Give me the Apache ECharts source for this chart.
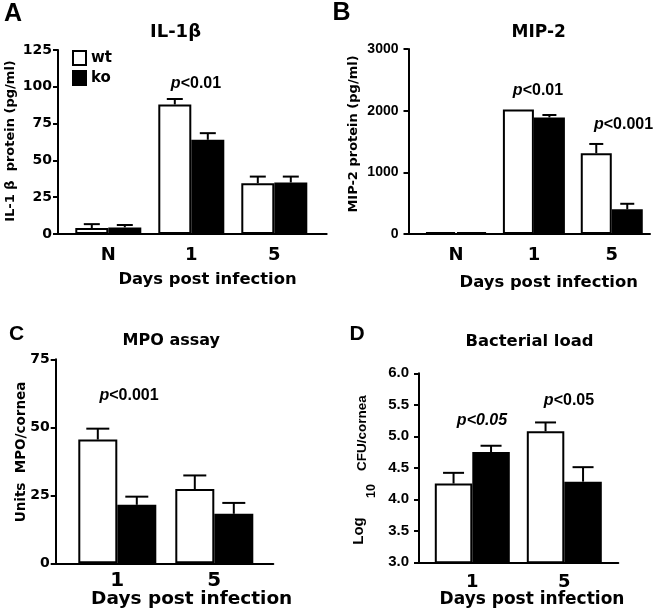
<!DOCTYPE html>
<html><head><meta charset="utf-8">
<script src="https://cdn.jsdelivr.net/npm/echarts@6/dist/echarts.min.js"></script>
<style>html,body{margin:0;padding:0;background:#fff}#c{width:654px;height:615px}</style>
</head><body><div id="c"></div>
<script>
// ---------- DATA ----------
const catsA = ['N', '1', '5'];
const wtA = [4, 88, 34.5];
const wtAErr = [2.7, 3.7, 4.5];
const koA = [4.5, 64, 35];
const koAErr = [1.6, 4.5, 4];
const ticksA = { min: 0, max: 125, interval: 25 };

const catsB = ['N', '1', '5'];
const wtB = [30, 2020, 1310];
const wtBErr = [0, 0, 150];
const koB = [30, 1890, 400];
const koBErr = [0, 40, 90];
const ticksB = { min: 0, max: 3000, interval: 1000 };

const catsC = ['1', '5'];
const wtC = [45.5, 27.3];
const wtCErr = [4, 5];
const koC = [21.5, 18.2];
const koCErr = [3, 4];
const ticksC = { min: 0, max: 75, interval: 25 };

const catsD = ['1', '5'];
const wtD = [4.25, 5.08];
const wtDErr = [0.17, 0.14];
const koD = [4.75, 4.28];
const koDErr = [0.1, 0.23];
const ticksD = { min: 3.0, max: 6.0, interval: 0.5 };

const seriesNames = ['wt', 'ko'];
const xTitle = 'Days post infection';

// ---------- LAYOUT ----------
const DV = 'DejaVu Sans', LB = 'Liberation Sans';
const panels = [
  { cats: catsA, wt: wtA, wtE: wtAErr, ko: koA, koE: koAErr, ticks: ticksA,
    frame: { l: 58, t: 50, r: 326.7, b: 234 }, data: { l: 66.8, w: 249 }, bw: 33, cap: 16,
    tickFont: DV, tickSize: 14, tickMargin: 6, catFont: DV, catSize: 18, catMargin: 12.5, dec: 0 },
  { cats: catsB, wt: wtB, wtE: wtBErr, ko: koB, koE: koBErr, ticks: ticksB,
    frame: { l: 408.5, t: 49, r: 650, b: 234 }, data: { l: 417.1, w: 233.6 }, bw: 31, cap: 14,
    tickFont: LB, tickSize: 14, tickMargin: 10, catFont: DV, catSize: 18, catMargin: 12, dec: 0 },
  { cats: catsC, wt: wtC, wtE: wtCErr, ko: koC, koE: koCErr, ticks: ticksC,
    frame: { l: 55.7, t: 359.3, r: 273.3, b: 563.3 }, data: { l: 68.8, w: 194 }, bw: 39, cap: 23,
    tickFont: DV, tickSize: 14, tickMargin: 6, catFont: DV, catSize: 20, catMargin: 7, dec: 0 },
  { cats: catsD, wt: wtD, wtE: wtDErr, ko: koD, koE: koDErr, ticks: ticksD,
    frame: { l: 419, t: 373.3, r: 618.3, b: 562.3 }, data: { l: 426.3, w: 184 }, bw: 37.5, cap: 21,
    tickFont: LB, tickSize: 15, tickMargin: 10, catFont: DV, catSize: 18, catMargin: 11, dec: 1 }
];

const grid = [], xAxis = [], yAxis = [], series = [];

function errRender(sign, bw, cap) {
  return function (params, api) {
    const e = api.value(2);
    if (!(e > 0)) return null;
    const c = api.coord([api.value(0), api.value(1)]);
    const t = api.coord([api.value(0), api.value(1) + e]);
    const x = c[0] + sign * bw / 2;
    const st = { stroke: '#000', lineWidth: 2 };
    return { type: 'group', children: [
      { type: 'line', shape: { x1: x, y1: c[1], x2: x, y2: t[1] }, style: st },
      { type: 'line', shape: { x1: x - cap / 2, y1: t[1], x2: x + cap / 2, y2: t[1] }, style: st }
    ] };
  };
}

panels.forEach((p, i) => {
  const fi = 2 * i, di = 2 * i + 1;
  const h = p.frame.b - p.frame.t;
  grid.push({ left: p.frame.l, top: p.frame.t, width: p.frame.r - p.frame.l, height: h });
  grid.push({ left: p.data.l, top: p.frame.t, width: p.data.w, height: h });
  xAxis.push({ gridIndex: fi, type: 'value', min: 0, max: 1,
    axisLine: { show: true, onZero: false, lineStyle: { color: '#000', width: 2 } },
    axisTick: { show: false }, axisLabel: { show: false }, splitLine: { show: false } });
  yAxis.push({ gridIndex: fi, type: 'value', min: p.ticks.min, max: p.ticks.max, interval: p.ticks.interval,
    axisLine: { show: true, onZero: false, lineStyle: { color: '#000', width: 2 } },
    axisTick: { show: true, length: 5, lineStyle: { color: '#000', width: 2 } },
    axisLabel: { color: '#000', fontFamily: p.tickFont, fontSize: p.tickSize, fontWeight: 'bold', margin: p.tickMargin,
      formatter: v => p.dec ? v.toFixed(p.dec) : String(v) },
    splitLine: { show: false } });
  xAxis.push({ gridIndex: di, type: 'category', data: p.cats,
    axisLine: { show: false }, axisTick: { show: false },
    axisLabel: { color: '#000', fontFamily: p.catFont, fontSize: p.catSize, fontWeight: 'bold', margin: p.catMargin } });
  yAxis.push({ gridIndex: di, type: 'value', min: p.ticks.min, max: p.ticks.max, show: false });
  series.push({ type: 'bar', name: seriesNames[0], xAxisIndex: di, yAxisIndex: di, data: p.wt,
    barWidth: p.bw, barGap: '0%', itemStyle: { color: '#fff', borderColor: '#000', borderWidth: 2 }, z: 2 });
  series.push({ type: 'bar', name: seriesNames[1], xAxisIndex: di, yAxisIndex: di, data: p.ko,
    barWidth: p.bw, barGap: '0%', itemStyle: { color: '#000', borderColor: '#000', borderWidth: 2 }, z: 2 });
  series.push({ type: 'custom', xAxisIndex: di, yAxisIndex: di, z: 3, clip: false,
    data: p.wt.map((v, k) => [k, v, p.wtE[k]]), encode: { x: 0, y: 1 }, renderItem: errRender(-1, p.bw, p.cap) });
  series.push({ type: 'custom', xAxisIndex: di, yAxisIndex: di, z: 3, clip: false,
    data: p.ko.map((v, k) => [k, v, p.koE[k]]), encode: { x: 0, y: 1 }, renderItem: errRender(1, p.bw, p.cap) });
});

function txt(x, y, text, size, family, opts) {
  opts = opts || {};
  return { type: 'text', x: x, y: y, rotation: opts.rot || 0,
    style: { text: text, fontSize: size, fontFamily: family, fontWeight: 'bold', fill: '#000',
      align: 'center', verticalAlign: 'middle', fontStyle: opts.italic ? 'italic' : 'normal' } };
}
function pval(x, y, rest, allItalic) {
  const base = { fontSize: 16, fontFamily: LB, fontWeight: 'bold', fill: '#000' };
  return { type: 'text', x: x, y: y,
    style: Object.assign({}, base, { text: '{i|p}{r|' + rest + '}', align: 'center', verticalAlign: 'middle',
      rich: { i: Object.assign({}, base, { fontStyle: 'italic' }),
              r: Object.assign({}, base, { fontStyle: allItalic ? 'italic' : 'normal' }) } }) };
}
const R = Math.PI / 2;
const graphic = [
  txt(13, 14, 'A', 25, LB), txt(341.5, 13.5, 'B', 25, LB),
  txt(16.5, 334.5, 'C', 21, LB), txt(357, 334.5, 'D', 21, LB),
  txt(175.5, 32.5, 'IL-1β', 18, DV), txt(538.7, 33, 'MIP-2', 17, DV),
  txt(171.3, 340.5, 'MPO assay', 16, DV), txt(529.5, 341.5, 'Bacterial load', 16.4, DV),
  txt(207.5, 280, xTitle, 16.4, DV), txt(548.7, 283, xTitle, 16.4, DV),
  txt(191.7, 599.5, xTitle, 18.5, DV), txt(532, 599.5, xTitle, 17, DV),
  txt(11, 141, 'IL-1 β  protein (pg/ml)', 13, DV, { rot: R }),
  txt(353.5, 134, 'MIP-2 protein (pg/ml)', 13, DV, { rot: R }),
  txt(21.5, 452, 'Units  MPO/cornea', 13.5, DV, { rot: R }),
  txt(359, 531, 'Log', 15, LB, { rot: R }),
  txt(371.5, 491, '10', 12.5, LB, { rot: R }),
  txt(362.5, 433, 'CFU/cornea', 13.5, LB, { rot: R }),
  pval(196, 84, '<0.01'), pval(538, 91, '<0.01'), pval(623.5, 125, '<0.001'),
  pval(129, 396, '<0.001'), pval(482, 421, '<0.05', true), pval(569, 401, '<0.05')
];

const chart = echarts.init(document.getElementById('c'), null, { renderer: 'canvas' });
chart.setOption({
  backgroundColor: '#fff',
  animation: false,
  legend: { data: seriesNames, orient: 'vertical', left: 72, top: 50, padding: 0, itemWidth: 13, itemHeight: 14, itemGap: 4,
    icon: 'rect', selectedMode: false,
    textStyle: { color: '#000', fontFamily: DV, fontSize: 15, fontWeight: 'bold' } },
  grid: grid, xAxis: xAxis, yAxis: yAxis, series: series, graphic: graphic
});
</script></body></html>
